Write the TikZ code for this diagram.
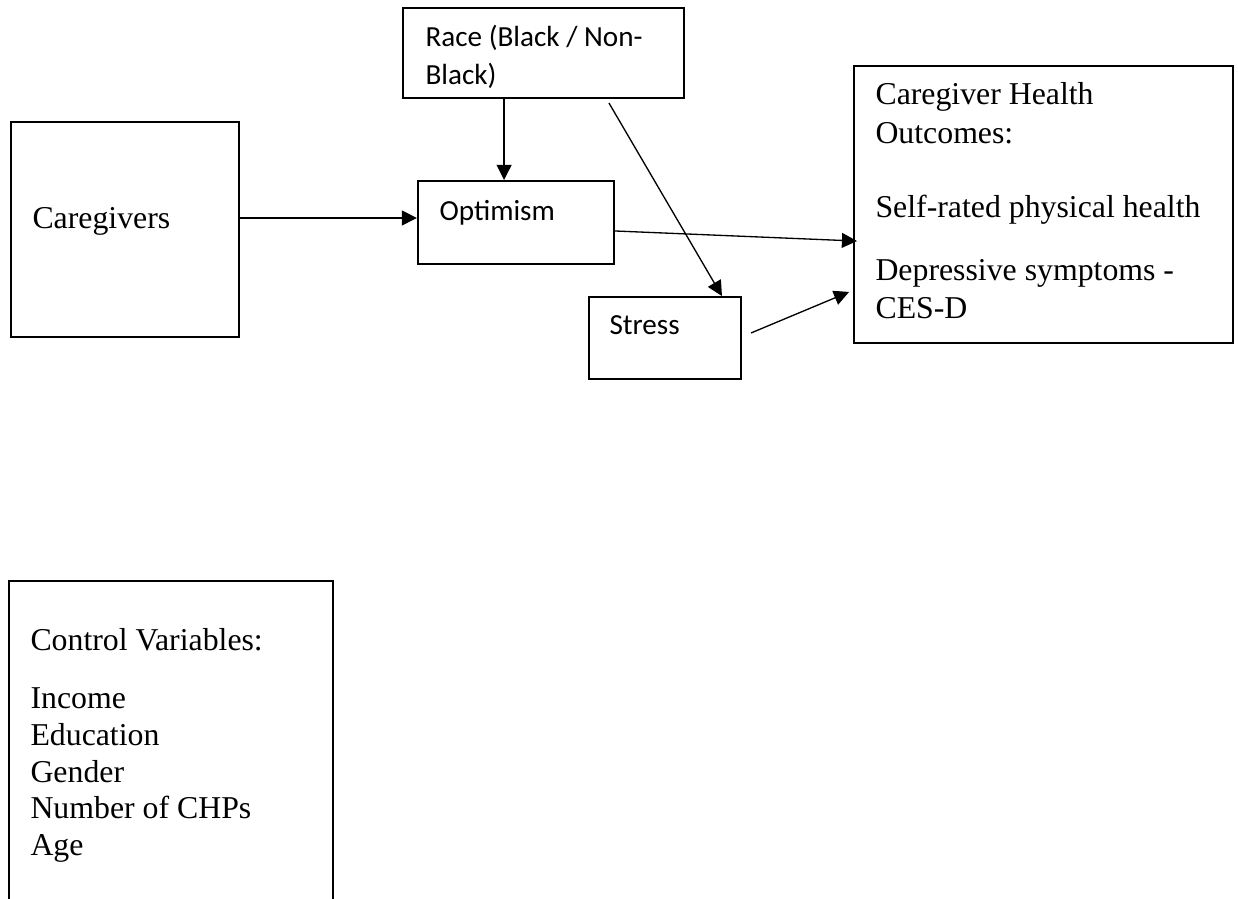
\documentclass[tikz,border=0pt]{standalone}
\usepackage{fontspec}
\setmainfont{Liberation Serif}
\newfontfamily\calibri{Carlito}
\usetikzlibrary{arrows.meta}

\tikzset{
    box/.style={draw, line width=0.75pt, inner sep=0pt},
    serifText/.style={anchor=base west, inner sep=0pt, font=\fontsize{12}{13.8}\selectfont},
    sansText/.style={anchor=base west, inner sep=0pt, font=\calibri\fontsize{11}{14.3}\selectfont},
    link/.style={->, line width=0.5pt},
    >={Triangle[length=5.7pt,width=5.6pt]}
}

\begin{document}
\begin{tikzpicture}[x=0.3774pt, y=-0.3774pt]
    \useasboundingbox (0,0) rectangle (1238,899);

    % boxes
    \node[box, minimum width=86pt, minimum height=81.1pt] (caregivers) at (125,229.5) {};
    \node[box, minimum width=106pt, minimum height=34pt] (race) at (543.5,53) {};
    \node[box, minimum width=74pt, minimum height=31.3pt] (optimism) at (516,222.5) {};
    \node[box, minimum width=57.4pt, minimum height=30.9pt] (stress) at (665,338) {};
    \node[box, minimum width=143pt, minimum height=104.5pt] (outcomes) at (1043.5,204.5) {};
    \node[box, minimum width=122.3pt, minimum height=131.7pt] (controls) at (171,755.5) {};

    % texts
    \node[serifText] (caregiversText) at (32,228) {Caregivers};
    \node[sansText] (raceLine1) at (425,47) {Race (Black / Non-};
    \node[sansText] (raceLine2) at (425,85) {Black)};
    \node[sansText] (optimismText) at (439,220) {Optimism};
    \node[sansText] (stressText) at (609,334) {Stress};
    \node[serifText] (outcomesLine1) at (875,105) {Caregiver Health};
    \node[serifText] (outcomesLine2) at (875,143) {Outcomes:};
    \node[serifText] (outcomesLine3) at (875,217) {Self-rated physical health};
    \node[serifText] (outcomesLine4) at (875,280) {Depressive symptoms -};
    \node[serifText] (outcomesLine5) at (875,318) {CES-D};
    \node[serifText] (controlsTitle) at (30,650) {Control Variables:};
    \node[serifText] (controlsIncome) at (30,708) {Income};
    \node[serifText] (controlsEducation) at (30,745) {Education};
    \node[serifText] (controlsGender) at (30,782) {Gender};
    \node[serifText] (controlsCHPs) at (30,818) {Number of CHPs};
    \node[serifText] (controlsAge) at (30,855) {Age};

\draw[link] ([yshift=1.7pt]optimism.west -| caregivers.east) -- ([yshift=1.7pt]optimism.west);
\draw[link] ([xshift=-4.5pt]optimism.north |- race.south) -- ([xshift=-4.5pt]optimism.north);
\draw[link] ([xshift=24.7pt,yshift=-1.5pt]race.south) -- ([xshift=21.5pt]stress.north);
\draw[link] ([yshift=-3.2pt]optimism.east) -- ([xshift=1.5pt,yshift=-13.8pt]outcomes.west);
\draw[link] ([xshift=3.4pt,yshift=1.9pt]stress.east) -- ([xshift=-1.5pt,yshift=-33pt]outcomes.west);

\end{tikzpicture}
\end{document}
